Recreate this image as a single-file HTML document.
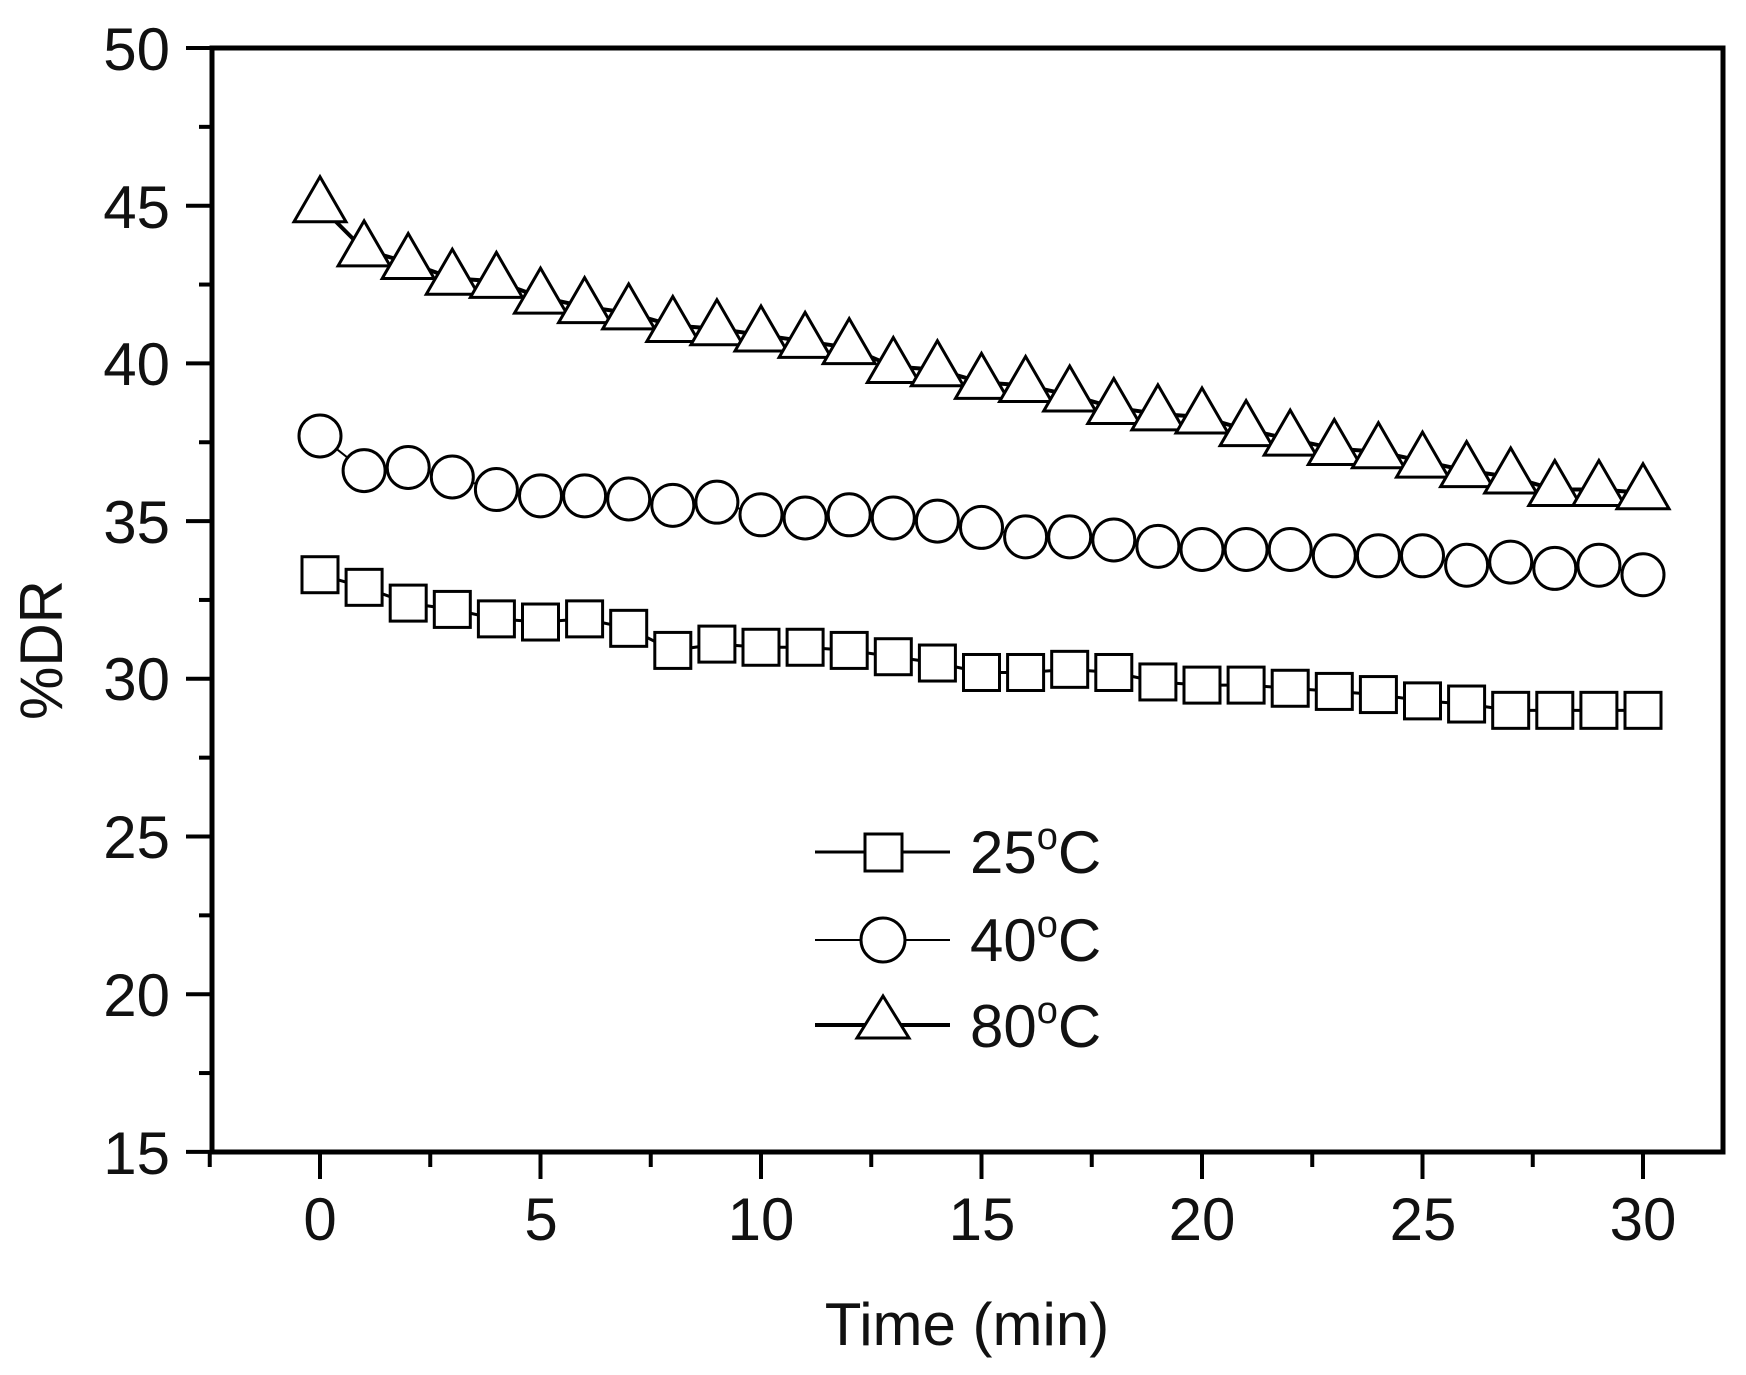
<!DOCTYPE html>
<html><head><meta charset="utf-8"><style>
html,body{margin:0;padding:0;background:#fff;}
svg{display:block;font-family:"Liberation Sans",Arial,sans-serif;}
</style></head><body>
<svg id="s" width="1746" height="1375" viewBox="0 0 1746 1375" xmlns="http://www.w3.org/2000/svg">
<rect width="1746" height="1375" fill="#fff"/>
<g id="g"></g>
<rect x="212" y="48" width="1511" height="1104" fill="none" stroke="#000" stroke-width="5"/>
<g font-size="60" fill="#111" text-anchor="end">
<text x="170" y="70">50</text><text x="170" y="228">45</text><text x="170" y="385">40</text>
<text x="170" y="543">35</text><text x="170" y="700">30</text><text x="170" y="858">25</text>
<text x="170" y="1016">20</text><text x="170" y="1174">15</text>
</g>
<g font-size="60" fill="#111" text-anchor="middle">
<text x="320" y="1240">0</text><text x="541" y="1240">5</text><text x="761" y="1240">10</text>
<text x="982" y="1240">15</text><text x="1202" y="1240">20</text><text x="1423" y="1240">25</text>
<text x="1643" y="1240">30</text>
<text x="967" y="1345">Time (min)</text>
<text transform="translate(62,650) rotate(-90)">%DR</text>
</g>
<g font-size="60" fill="#111">
<text x="970" y="873">25<tspan font-size="38" dy="-24">o</tspan><tspan dy="24">C</tspan></text>
<text x="970" y="961">40<tspan font-size="38" dy="-24">o</tspan><tspan dy="24">C</tspan></text>
<text x="970" y="1047">80<tspan font-size="38" dy="-24">o</tspan><tspan dy="24">C</tspan></text>
</g>
<g stroke="#000" fill="#fff">
<line x1="815" y1="852" x2="950" y2="852" stroke-width="3"/>
<rect x="865" y="834" width="37" height="37" stroke-width="3"/>
<line x1="815" y1="940" x2="950" y2="940" stroke-width="2"/>
<circle cx="883" cy="940" r="22" stroke-width="3"/>
<line x1="815" y1="1025" x2="950" y2="1025" stroke-width="4"/>
<polygon points="883,996 857,1038 909,1038" stroke-width="3"/>
</g>
</svg>
<script>
var g=document.getElementById('g'),h='';
function X(t){return 320+t*44.1;}function Y(v){return 48+(50-v)*31.54;}
for(var v=15;v<=50;v+=2.5){var y=Y(v),maj=(v%5==0);h+='<line x1="'+(maj?186:199)+'" y1="'+y+'" x2="212" y2="'+y+'" stroke="#000" stroke-width="4"/>';}
for(var t=-2.5;t<=31;t+=2.5){var x=X(t),maj=(t%5==0);h+='<line x1="'+x+'" y1="1152" x2="'+x+'" y2="'+(maj?1179:1167)+'" stroke="#000" stroke-width="4"/>';}
var tri=[45.0,43.6,43.2,42.7,42.6,42.1,41.8,41.6,41.2,41.1,40.9,40.7,40.5,39.9,39.8,39.4,39.3,39.0,38.6,38.4,38.3,37.9,37.6,37.3,37.2,36.9,36.6,36.4,36.0,36.0,35.9];
var cir=[37.7,36.6,36.7,36.4,36.0,35.8,35.8,35.7,35.5,35.6,35.2,35.1,35.2,35.1,35.0,34.8,34.5,34.5,34.4,34.2,34.1,34.1,34.1,33.9,33.9,33.9,33.6,33.7,33.5,33.6,33.3];
var sq=[33.3,32.9,32.4,32.2,31.9,31.8,31.9,31.6,30.9,31.1,31.0,31.0,30.9,30.7,30.5,30.2,30.2,30.3,30.2,29.9,29.8,29.8,29.7,29.6,29.5,29.3,29.2,29.0,29.0,29.0,29.0];
function line(a,w){var p=a.map(function(v,i){return X(i)+','+Y(v)}).join(' ');h+='<polyline points="'+p+'" fill="none" stroke="#000" stroke-width="'+w+'"/>';}
line(sq,3);line(cir,2);line(tri,4);
sq.forEach(function(v,i){h+='<rect x="'+(X(i)-18)+'" y="'+(Y(v)-18)+'" width="36" height="36" fill="#fff" stroke="#000" stroke-width="3"/>';});
cir.forEach(function(v,i){h+='<circle cx="'+X(i)+'" cy="'+Y(v)+'" r="21" fill="#fff" stroke="#000" stroke-width="3"/>';});
tri.forEach(function(v,i){var x=X(i),y=Y(v);h+='<polygon points="'+x+','+(y-29)+' '+(x-26)+','+(y+16)+' '+(x+26)+','+(y+16)+'" fill="#fff" stroke="#000" stroke-width="3"/>';});
g.innerHTML=h;
</script>
</body></html>
